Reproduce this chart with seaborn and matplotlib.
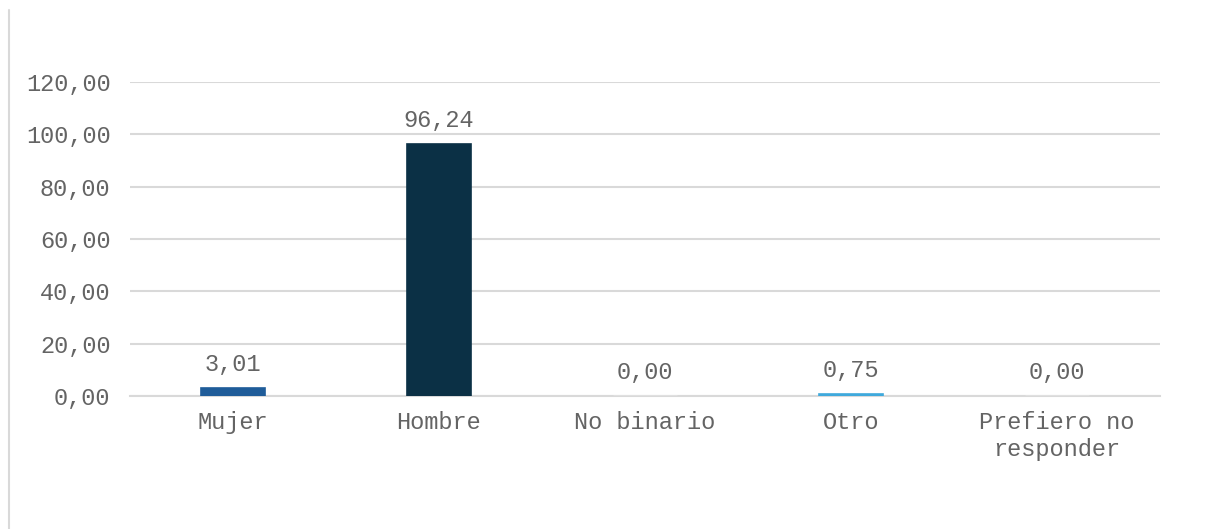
import pandas as pd
import seaborn as sns
import matplotlib.pyplot as plt
from matplotlib.lines import Line2D

#DATA
categorias = ["Mujer", "Hombre", "No binario", "Otro", "Prefiero no\nresponder"]
porcentajes = [3.01, 96.24, 0.00, 0.75, 0.00]
colores = ["#1F5C99", "#0B3045", "#2E75B6", "#3FA9DC", "#7F7F7F"]

df = pd.DataFrame({"categoria": categorias, "pct": porcentajes})

sns.set_theme(style="white")
plt.rcParams['font.family'] = ['Liberation Mono', 'DejaVu Sans']
GRIS = "#646464"
LINEA = "#D9D9D9"
FS = 17

fig = plt.figure(figsize=(12.1, 5.29), dpi=100)
ax = fig.add_axes([0.1074, 0.2514, 0.8513, 0.5936])

sns.barplot(data=df, x="categoria", y="pct", hue="categoria", palette=colores,
            legend=False, width=0.31, saturation=1, ax=ax, zorder=3)
#SMALL BARS NEED AN EDGE TO STAY VISIBLE
for p in ax.patches:
    if p.get_height() > 0:
        p.set_edgecolor(p.get_facecolor())
        p.set_linewidth(1.2)

ax.set_ylim(0, 120)
ax.set_yticks(range(0, 121, 20))
ax.set_yticklabels([f"{v:.2f}".replace(".", ",") for v in range(0, 121, 20)])
ax.yaxis.grid(True, color=LINEA, linewidth=1.5)
ax.set_axisbelow(True)
ax.set_xlabel("")
ax.set_ylabel("")
for s in ["top", "right", "left"]:
    ax.spines[s].set_visible(False)
ax.spines["bottom"].set_color(LINEA)
ax.spines["bottom"].set_linewidth(1.5)
ax.spines["bottom"].set_zorder(0.6)
ax.tick_params(axis="y", length=0, pad=14, labelsize=FS, labelcolor=GRIS)
ax.tick_params(axis="x", length=0, pad=11, labelsize=FS, labelcolor=GRIS)

#BAR LABELS
for cont in ax.containers:
    ax.bar_label(cont, labels=[f"{v:.2f}".replace(".", ",") for v in cont.datavalues],
                 padding=9, fontsize=FS, color=GRIS)

#CHART BORDER (LEFT EDGE)
fig.add_artist(Line2D([9/1210, 9/1210], [0, 1 - 10/529], color=LINEA, linewidth=1.5))

fig.savefig("out.png", dpi=100)
